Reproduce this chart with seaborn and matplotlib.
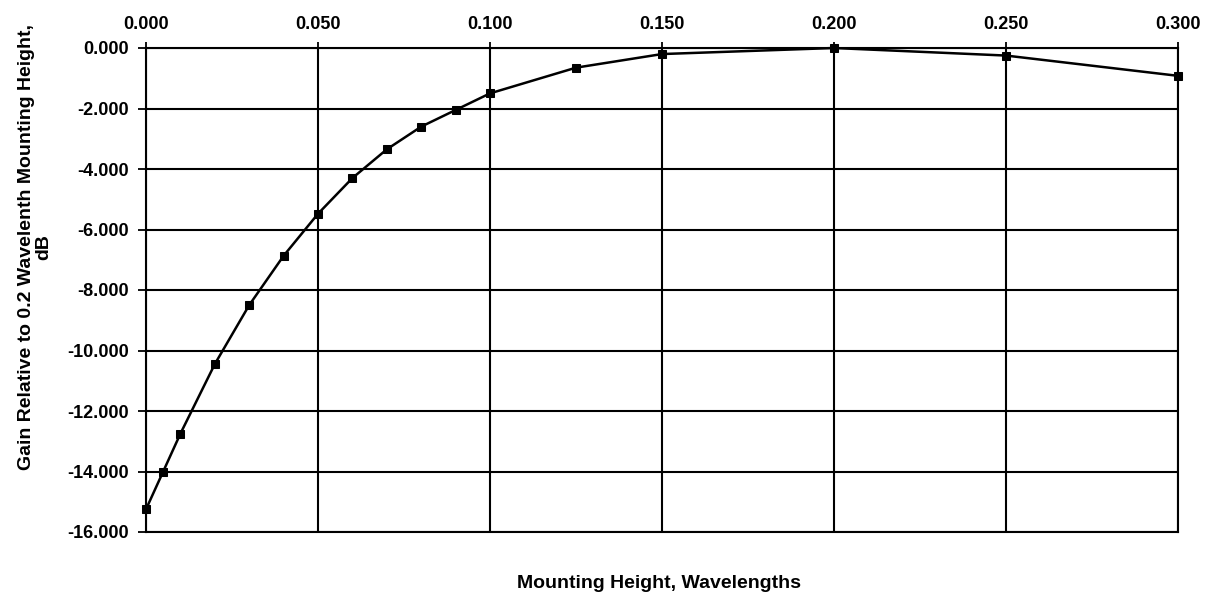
import matplotlib
matplotlib.use("Agg")
import matplotlib.pyplot as plt
import seaborn as sns
import pandas as pd
from matplotlib.ticker import FormatStrFormatter, MultipleLocator

# Mounting height (wavelengths) and gain relative to 0.2-wavelength height (dB)
heights = [0.000, 0.005, 0.010, 0.020, 0.030, 0.040, 0.050, 0.060, 0.070,
           0.080, 0.090, 0.100, 0.125, 0.150, 0.200, 0.250, 0.300]
gain_db = [-15.25, -14.0, -12.75, -10.45, -8.5, -6.87, -5.48, -4.3, -3.35,
           -2.6, -2.05, -1.5, -0.65, -0.2, 0.0, -0.25, -0.92]

x_label = "Mounting Height, Wavelengths"
y_label = "Gain Relative to 0.2 Wavelenth Mounting Height,\ndB"

sns.set_style("white")
plt.rcParams["font.family"] = ["Liberation Sans", "DejaVu Sans"]
plt.rcParams["text.color"] = "black"
plt.rcParams["xtick.color"] = "black"
plt.rcParams["ytick.color"] = "black"
plt.rcParams["axes.labelcolor"] = "black"

df = pd.DataFrame({"height": heights, "gain": gain_db})

W, H = 1209, 597
fig = plt.figure(figsize=(W / 100, H / 100), dpi=100)
ax = fig.add_axes([146 / W, 1 - 532 / H, (1178 - 146) / W, (532 - 48) / H])

sns.lineplot(data=df, x="height", y="gain", ax=ax, color="black", linewidth=1.8,
             marker="s", markersize=5.5, markeredgecolor="black", markerfacecolor="black",
             zorder=5, clip_on=False)

ax.set_xlim(0, 0.3)
ax.set_ylim(-16, 0)
ax.xaxis.set_major_locator(MultipleLocator(0.05))
ax.yaxis.set_major_locator(MultipleLocator(2))
ax.xaxis.set_major_formatter(FormatStrFormatter("%.3f"))
ax.yaxis.set_major_formatter(FormatStrFormatter("%.3f"))

ax.xaxis.tick_top()
ax.tick_params(axis="x", which="major", top=True, bottom=False, direction="inout",
               length=8, width=1.3, color="black", labelcolor="black", labelsize=13, pad=7)
ax.tick_params(axis="y", which="major", left=True, direction="inout",
               length=12, width=1.3, color="black", labelcolor="black", labelsize=13, pad=6)

ax.grid(True, color="black", linewidth=1.5)
for side in ["left", "right", "top", "bottom"]:
    ax.spines[side].set_color("black")
    ax.spines[side].set_linewidth(1.5)

ax.set_xlabel("")
ax.set_ylabel("")
fig.text(35 / W, 1 - 247 / H, y_label, rotation=90, ha="center", va="center",
         multialignment="center", fontsize=14, fontweight="bold", linespacing=1.05,
         color="black")
fig.text(659 / W, 1 - 584 / H, x_label, ha="center", va="center",
         fontsize=14, fontweight="bold", color="black")

for lbl in ax.get_xticklabels() + ax.get_yticklabels():
    lbl.set_fontweight("bold")

fig.savefig("out.png", dpi=100, facecolor="white")
